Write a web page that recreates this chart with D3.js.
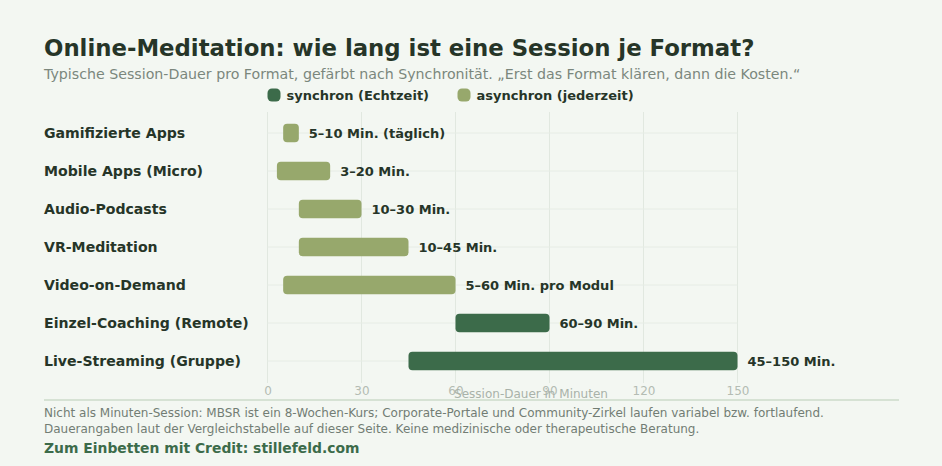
<!DOCTYPE html>
<html>
<head>
<meta charset="utf-8">
<script src="https://cdn.jsdelivr.net/npm/d3@7"></script>
<style>
  html, body { margin: 0; padding: 0; background: #f3f7f2; }
  svg text { font-family: "DejaVu Sans", Verdana, sans-serif; }
</style>
</head>
<body>
<div class="chart"></div>
<script>
const formats = [
  "Gamifizierte Apps",
  "Mobile Apps (Micro)",
  "Audio-Podcasts",
  "VR-Meditation",
  "Video-on-Demand",
  "Einzel-Coaching (Remote)",
  "Live-Streaming (Gruppe)"
];
const minStart = [5, 3, 10, 10, 5, 60, 45];
const minEnd = [10, 20, 30, 45, 60, 90, 150];
const modes = ["asynchron", "asynchron", "asynchron", "asynchron", "asynchron", "synchron", "synchron"];
const rangeLabels = [
  "5–10 Min. (täglich)",
  "3–20 Min.",
  "10–30 Min.",
  "10–45 Min.",
  "5–60 Min. pro Modul",
  "60–90 Min.",
  "45–150 Min."
];
const xTicks = [0, 30, 60, 90, 120, 150];
const legendKeys = ["synchron", "asynchron"];
const legendLabels = ["synchron (Echtzeit)", "asynchron (jederzeit)"];

const width = 942;
const height = 466;

const rows = formats.map((f, i) => ({
  format: f,
  start: minStart[i],
  end: minEnd[i],
  mode: modes[i],
  label: rangeLabels[i]
}));

const svg = d3
  .select(".chart")
  .append("svg")
  .attr("width", width)
  .attr("height", height);

svg.append("rect").attr("width", width).attr("height", height).attr("fill", "#f3f7f2");

const colors = d3
  .scaleOrdinal()
  .domain(legendKeys)
  .range(["#3c6b4a", "#97a86c"]);

const x = d3.scaleLinear().domain([0, 150]).range([267.5, 737.5]);
const y = d3
  .scaleBand()
  .domain(formats)
  .range([114, 380])
  .paddingInner(0.5)
  .paddingOuter(0.25);

// title block
svg.append("text")
  .attr("x", 44).attr("y", 56)
  .style("font-size", "22.8px").style("font-weight", "bold")
  .attr("fill", "#263528")
  .text("Online-Meditation: wie lang ist eine Session je Format?");

svg.append("text")
  .attr("x", 44).attr("y", 78.5)
  .style("font-size", "14.2px")
  .attr("fill", "#7b877d")
  .text("Typische Session-Dauer pro Format, gefärbt nach Synchronität. „Erst das Format klären, dann die Kosten.“");

// legend
const legendX = [267.5, 457.5];
const legend = svg.selectAll(".legend")
  .data(legendKeys)
  .enter()
  .append("g")
  .attr("class", "legend")
  .attr("transform", (d, i) => `translate(${legendX[i]}, 88.5)`);
legend.append("rect")
  .attr("width", 13).attr("height", 13).attr("rx", 4.5)
  .attr("fill", d => colors(d));
legend.append("text")
  .attr("x", 19).attr("y", 11.5)
  .style("font-size", "13px").style("font-weight", "bold")
  .attr("fill", "#263528")
  .text((d, i) => legendLabels[i]);

// grid
svg.append("g")
  .selectAll("line")
  .data(xTicks)
  .enter()
  .append("line")
  .attr("x1", d => x(d)).attr("x2", d => x(d))
  .attr("y1", 112).attr("y2", 383)
  .attr("stroke", "#e1e8e0").attr("stroke-width", 1);

svg.append("g")
  .selectAll("line")
  .data(formats)
  .enter()
  .append("line")
  .attr("x1", x(0)).attr("x2", x(150))
  .attr("y1", d => y(d) + y.bandwidth() / 2)
  .attr("y2", d => y(d) + y.bandwidth() / 2)
  .attr("stroke", "#e6ece5").attr("stroke-width", 1);

// y-axis labels
const yAxis = d3.axisLeft(y).tickSize(0).tickPadding(0);
const yG = svg.append("g").attr("transform", "translate(44, 0)").call(yAxis);
yG.select(".domain").remove();
yG.selectAll("text")
  .attr("text-anchor", "start")
  .attr("dy", "0.38em")
  .style("font-family", '"DejaVu Sans", Verdana, sans-serif')
  .style("font-size", "14.1px").style("font-weight", "bold")
  .attr("fill", "#263528");

// bars
svg.append("g")
  .selectAll("rect")
  .data(rows)
  .enter()
  .append("rect")
  .attr("x", d => x(d.start))
  .attr("y", d => y(d.format) + y.bandwidth() / 2 - 9.25)
  .attr("width", d => x(d.end) - x(d.start))
  .attr("height", 18.5)
  .attr("rx", 4)
  .attr("fill", d => colors(d.mode));

svg.append("g")
  .selectAll("text")
  .data(rows)
  .enter()
  .append("text")
  .attr("x", d => x(d.end) + 10)
  .attr("y", d => y(d.format) + y.bandwidth() / 2)
  .attr("dy", "0.38em")
  .style("font-size", "13px").style("font-weight", "bold")
  .attr("fill", "#263528")
  .text(d => d.label);

// x-axis
const xAxis = d3.axisBottom(x).tickValues(xTicks).tickSize(0).tickPadding(0);
const xG = svg.append("g").attr("transform", "translate(0, 386)").call(xAxis);
xG.select(".domain").remove();
xG.selectAll("text")
  .attr("dy", "0.71em")
  .style("font-family", '"DejaVu Sans", Verdana, sans-serif')
  .style("font-size", "12px")
  .attr("fill", "#b4bcb3");

svg.append("text")
  .attr("x", 531).attr("y", 398)
  .attr("text-anchor", "middle")
  .style("font-size", "12px")
  .attr("fill", "#a9b2a9")
  .text("Session-Dauer in Minuten");

svg.append("line")
  .attr("x1", 44).attr("x2", 899)
  .attr("y1", 400).attr("y2", 400)
  .attr("stroke", "#d6e2d4").attr("stroke-width", 2);

// footnotes
const notes = [
  "Nicht als Minuten-Session: MBSR ist ein 8-Wochen-Kurs; Corporate-Portale und Community-Zirkel laufen variabel bzw. fortlaufend.",
  "Dauerangaben laut der Vergleichstabelle auf dieser Seite. Keine medizinische oder therapeutische Beratung."
];
svg.append("g")
  .selectAll("text")
  .data(notes)
  .enter()
  .append("text")
  .attr("x", 44)
  .attr("y", (d, i) => 416.5 + i * 16.5)
  .style("font-size", "12px")
  .attr("fill", "#727d74")
  .text(d => d);

svg.append("text")
  .attr("x", 44).attr("y", 453)
  .style("font-size", "13.9px").style("font-weight", "bold")
  .attr("fill", "#3c6b4a")
  .text("Zum Einbetten mit Credit: stillefeld.com");
</script>
</body>
</html>
